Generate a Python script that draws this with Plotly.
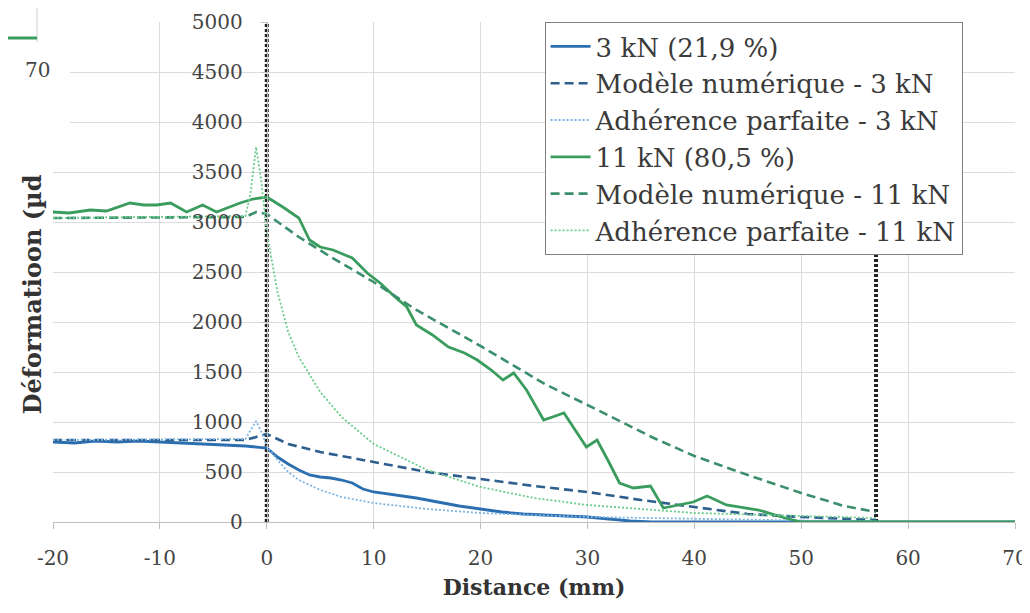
import plotly.graph_objects as go

# ---------------- data ----------------
# 3 kN experimental
x_3kN = [-20, -18, -16, -14, -12, -10, -8, -6, -4, -2, 0, 1, 2, 3, 4, 5, 6, 7, 8, 9, 10,
         12, 14, 16, 18, 20, 22, 24, 26, 28, 30, 32, 34, 36, 40, 50, 60, 70]
y_3kN = [800, 790, 810, 800, 810, 800, 790, 780, 770, 760, 740, 650, 580, 520, 470, 450, 440, 420, 390, 330, 300,
         270, 240, 200, 160, 130, 100, 80, 70, 60, 50, 30, 10, 0, 0, 0, 0, 0]

# Modèle numérique 3 kN
x_num3 = [-20, -2, -1, 0, 2, 5, 10, 15, 20, 25, 30, 35, 40, 45, 50, 57]
y_num3 = [820, 820, 850, 880, 780, 700, 600, 500, 430, 360, 300, 220, 150, 80, 50, 20]

# Adhérence parfaite 3 kN
x_adh3 = [-20, -2, -1.5, -1, -0.5, 0, 1, 2, 3, 5, 7, 10, 15, 20, 30, 40, 50, 57]
y_adh3 = [820, 830, 920, 1010, 900, 760, 620, 500, 420, 320, 250, 190, 130, 90, 50, 30, 15, 10]

# 11 kN experimental
x_11kN = [-20, -18.5, -16.5, -15, -12.8, -11.5, -10.3, -9, -7.5, -6, -4.7, -3.5, -2.5, -1.3, 0, 1.5, 3, 4,
          5, 6.2, 8, 9.4, 10.6, 12, 13.1, 14, 15.5, 17, 18.5, 19.7, 21, 22.1, 23.1, 24.3, 25.9, 27, 27.8,
          29.9, 30.9, 32, 33, 34.3, 35.9, 37.1, 38.7, 39.9, 41.2, 43, 46, 48.5, 50, 55, 60, 65, 70]
y_11kN = [3100, 3090, 3120, 3110, 3190, 3170, 3170, 3190, 3100, 3170, 3100, 3150, 3190, 3230, 3250, 3150, 3040, 2820,
          2750, 2720, 2640, 2490, 2390, 2250, 2150, 1970, 1870, 1750, 1690, 1620, 1520, 1420, 1490, 1320, 1020, 1060, 1090,
          750, 820, 600, 390, 340, 360, 140, 170, 200, 260, 170, 120, 40, 0, 0, 0, 0, 0]

# Modèle numérique 11 kN
x_num11 = [-20, -2, -1, 0, 3, 6, 10, 14, 20, 26, 30, 36, 40, 45, 50, 54, 57]
y_num11 = [3040, 3050, 3100, 3080, 2850, 2650, 2400, 2120, 1760, 1380, 1170, 850, 660, 470, 290, 160, 100]

# Adhérence parfaite 11 kN
x_adh11 = [-20, -2, -1.5, -1, -0.5, 0, 0.5, 1, 2, 3, 5, 7, 10, 15, 20, 25, 30, 40, 50, 57]
y_adh11 = [3040, 3060, 3300, 3750, 3400, 2900, 2600, 2300, 1900, 1650, 1300, 1050, 780, 520, 350, 240, 170, 90, 60, 40]

# boundaries of the bonded zone (vertical black dotted lines)
bound_x = [0, 57]
bound_y = [0, 5000]

x_ticks = [-20, -10, 0, 10, 20, 30, 40, 50, 60, 70]
x_tick_labels = ["-20", "-10", "0", "10", "20", "30", "40", "50", "60", "70"]
y_ticks = [0, 500, 1000, 1500, 2000, 2500, 3000, 3500, 4000, 4500, 5000]

names = ["3 kN (21,9 %)", "Modèle numérique - 3 kN", "Adhérence parfaite - 3 kN",
         "11 kN (80,5 %)", "Modèle numérique - 11 kN", "Adhérence parfaite - 11 kN"]

# ---------------- figure ----------------
FONT = "DejaVu Serif"
BLUE = "#2C6FB0"
BLUE_D = "#2E5F8E"
BLUE_L = "#7DB3E3"
GREEN = "#3A9D5D"
GREEN_D = "#3C8F6C"
GREEN_L = "#6ACB8A"

fig = go.Figure()

for bx in bound_x:
    fig.add_trace(go.Scatter(x=[bx, bx], y=bound_y, mode="lines", showlegend=False,
                             line=dict(color="#222222", width=4, dash="3px,2px"), hoverinfo="skip"))

series = [
    (x_3kN, y_3kN, names[0], dict(color=BLUE, width=2.8)),
    (x_num3, y_num3, names[1], dict(color=BLUE_D, width=2.6, dash="9px,5px")),
    (x_adh3, y_adh3, names[2], dict(color=BLUE_L, width=1.8, dash="2px,2px")),
    (x_11kN, y_11kN, names[3], dict(color=GREEN, width=2.8)),
    (x_num11, y_num11, names[4], dict(color=GREEN_D, width=2.6, dash="9px,5px")),
    (x_adh11, y_adh11, names[5], dict(color=GREEN_L, width=1.8, dash="2px,2px")),
]
for xs, ys, nm, ln in series:
    fig.add_trace(go.Scatter(x=xs, y=ys, name=nm, mode="lines", line=ln))

fig.update_layout(
    width=1022, height=605,
    margin=dict(l=45, r=15, t=14, b=91),
    paper_bgcolor="white", plot_bgcolor="white",
    font=dict(family=FONT, color="#333333"),
    showlegend=True,
    legend=dict(x=0.511, y=1.0, xanchor="left", yanchor="top",
                bgcolor="white", bordercolor="#7f7f7f", borderwidth=1,
                font=dict(family=FONT, size=26, color="#3a3a3a"),
                tracegroupgap=0, itemwidth=40),
    xaxis=dict(range=[-20, 70], tickvals=x_ticks, ticktext=x_tick_labels, automargin=False,
               showgrid=True, gridcolor="#dcdcdc", gridwidth=1, zeroline=False,
               showline=True, linecolor="#bfbfbf", linewidth=1,
               ticks="outside", ticklen=6, tickcolor="#bfbfbf",
               tickfont=dict(family=FONT, size=20, color="#444444"),
               ticklabelstandoff=12,
               title=dict(text="<b>Distance (mm)</b>", font=dict(family=FONT, size=22, color="#333333"),
                          standoff=10)),
    yaxis=dict(range=[0, 5000], tickvals=y_ticks, tickformat="d", automargin=False,
               anchor="free", position=20 / 90,
               showgrid=True, gridcolor="#dcdcdc", gridwidth=1, zeroline=False,
               showline=True, linecolor="#bfbfbf", linewidth=1,
               ticks="outside", ticklen=6, tickcolor="#bfbfbf",
               tickfont=dict(family=FONT, size=20, color="#444444"),
               ticklabelstandoff=14),
)

# white patch top-left (overlapping fragment from another figure)
fig.add_shape(type="rect", xref="paper", yref="paper", x0=-0.06, x1=0.0177, y0=0.708, y1=1.06,
              fillcolor="white", line=dict(width=0), layer="above")
fig.add_shape(type="line", xref="paper", yref="paper", x0=-0.0166, x1=-0.0166, y0=0.96, y1=1.06,
              line=dict(color="#cfcfcf", width=1), layer="above")
fig.add_shape(type="line", xref="paper", yref="paper", x0=-0.06, x1=-0.0166, y0=0.968, y1=0.968,
              line=dict(color=GREEN, width=3), layer="above")
fig.add_annotation(text="70", xref="paper", yref="paper", x=-0.0166, y=0.904, showarrow=False,
                   xanchor="center", yanchor="middle", font=dict(family=FONT, size=20, color="#444444"))

# y axis title
fig.add_annotation(text="<b>Déformatioon (µd</b>", xref="paper", yref="paper", x=-0.021, y=0.455,
                   textangle=-90, showarrow=False, xanchor="center", yanchor="middle",
                   font=dict(family=FONT, size=24, color="#333333"))

fig.write_html("out.html")
